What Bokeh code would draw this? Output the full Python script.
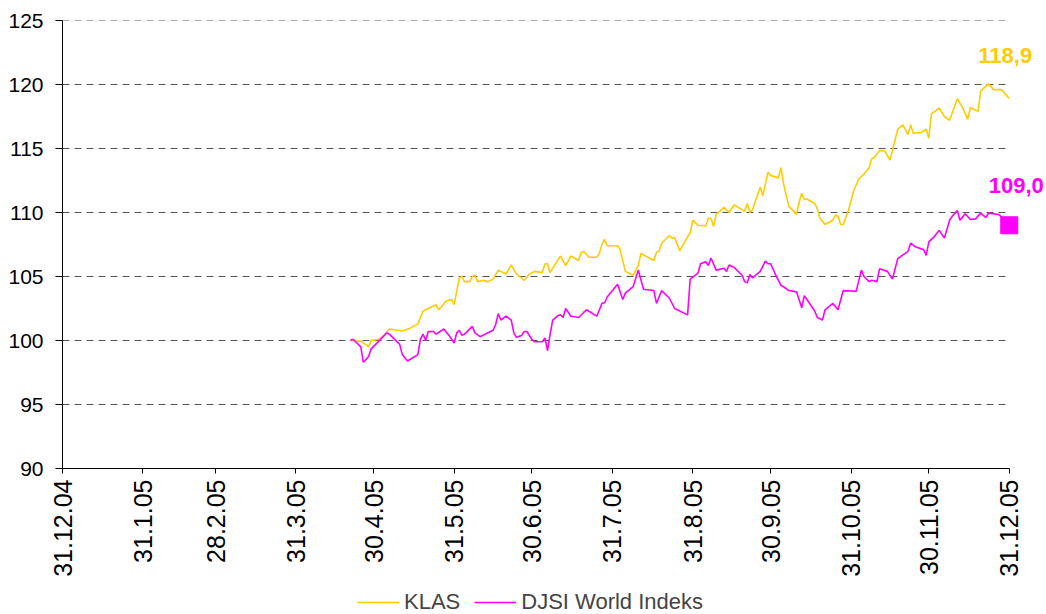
import math
from datetime import datetime, timedelta
from bokeh.plotting import figure
from bokeh.layouts import column
from bokeh.models import (FixedTicker, CustomJSTickFormatter, Legend, LegendItem,
                          Label, Range1d)
from bokeh.embed import file_html
from bokeh.resources import INLINE

# ---------------- data ----------------
klas_dates = ["2005-04-21","2005-04-25","2005-04-28","2005-04-29","2005-05-02","2005-05-04","2005-05-06","2005-05-09",
"2005-05-11","2005-05-14","2005-05-17","2005-05-19","2005-05-21","2005-05-24","2005-05-25","2005-05-28","2005-05-30",
"2005-05-31","2005-06-02","2005-06-03","2005-06-04","2005-06-06","2005-06-07","2005-06-08","2005-06-09","2005-06-11",
"2005-06-13","2005-06-15","2005-06-17","2005-06-20","2005-06-22","2005-06-24","2005-06-27","2005-06-29","2005-07-01",
"2005-07-04","2005-07-05","2005-07-06","2005-07-07","2005-07-08","2005-07-11","2005-07-13","2005-07-15","2005-07-18",
"2005-07-19","2005-07-20","2005-07-22","2005-07-25","2005-07-26","2005-07-27","2005-07-28","2005-07-29","2005-08-02",
"2005-08-03","2005-08-05","2005-08-08","2005-08-10","2005-08-11","2005-08-16","2005-08-17","2005-08-18","2005-08-19",
"2005-08-22","2005-08-23","2005-08-24","2005-08-26","2005-08-29","2005-08-30","2005-08-31","2005-09-02","2005-09-05",
"2005-09-06","2005-09-07","2005-09-08","2005-09-09","2005-09-12","2005-09-14","2005-09-16","2005-09-20","2005-09-21",
"2005-09-22","2005-09-23","2005-09-26","2005-09-27","2005-09-29","2005-09-30","2005-10-03","2005-10-04","2005-10-05",
"2005-10-07","2005-10-10","2005-10-11","2005-10-12","2005-10-13","2005-10-14","2005-10-17","2005-10-18","2005-10-19",
"2005-10-21","2005-10-24","2005-10-25","2005-10-26","2005-10-27","2005-10-28","2005-10-30","2005-11-01","2005-11-03",
"2005-11-05","2005-11-07","2005-11-08","2005-11-09","2005-11-11","2005-11-13","2005-11-15","2005-11-16","2005-11-18",
"2005-11-20","2005-11-22","2005-11-23","2005-11-24","2005-11-27","2005-11-29","2005-11-30","2005-12-01","2005-12-04",
"2005-12-06","2005-12-08","2005-12-11","2005-12-13","2005-12-15","2005-12-16","2005-12-19","2005-12-20","2005-12-23",
"2005-12-25","2005-12-28","2005-12-31"]
klas_values = [100.0, 99.95, 99.5, 100.0, 100.1, 100.4, 100.9, 100.8, 100.75, 100.96, 101.3, 102.3, 102.5, 102.8,
102.4, 103.1, 103.2, 102.8, 104.9, 105.0, 104.6, 104.6, 105.0, 105.1, 104.6, 104.7, 104.6, 104.8, 105.5, 105.2, 105.9,
105.2, 104.7, 105.2, 105.4, 105.3, 106.0, 106.0, 105.3, 105.65, 106.6, 105.86, 106.6, 106.25, 106.9, 106.95, 106.5,
106.5, 106.8, 107.55, 107.9, 107.4, 107.4, 107.1, 105.4, 105.1, 105.86, 106.8, 106.25, 106.9, 106.97, 107.6, 108.2,
108.0, 108.05, 107.0, 108.1, 108.4, 109.4, 109.0, 108.95, 109.55, 109.55, 108.9, 109.85, 110.4, 110.0, 110.6, 110.1,
110.7, 110.0, 110.2, 112.0, 111.3, 113.15, 112.9, 112.7, 113.5, 112.25, 110.5, 109.85, 110.8, 111.5, 111.0, 111.05,
110.7, 110.3, 109.55, 109.06, 109.4, 109.8, 109.7, 109.06, 109.06, 110.15, 111.7, 112.6, 113.0, 113.5, 114.2, 114.3,
114.84, 114.8, 114.1, 114.84, 116.5, 116.85, 116.1, 116.85, 116.2, 116.25, 116.5, 115.8, 117.7, 118.15, 117.5, 117.2,
118.9, 118.2, 117.27, 118.2, 117.9, 119.5, 120.05, 119.6, 119.6, 118.9]

djsi_dates = ["2005-04-21","2005-04-22","2005-04-25","2005-04-26","2005-04-28","2005-04-29","2005-05-02","2005-05-05",
"2005-05-06","2005-05-10","2005-05-11","2005-05-13","2005-05-17","2005-05-18","2005-05-19","2005-05-20","2005-05-21",
"2005-05-23","2005-05-24","2005-05-27","2005-05-29","2005-05-31","2005-06-01","2005-06-02","2005-06-03","2005-06-04",
"2005-06-07","2005-06-08","2005-06-10","2005-06-13","2005-06-15","2005-06-16","2005-06-17","2005-06-18","2005-06-20",
"2005-06-22","2005-06-23","2005-06-24","2005-06-26","2005-06-27","2005-06-28","2005-06-30","2005-07-01","2005-07-04",
"2005-07-05","2005-07-06","2005-07-07","2005-07-08","2005-07-10","2005-07-11","2005-07-12","2005-07-13","2005-07-15",
"2005-07-18","2005-07-21","2005-07-25","2005-07-27","2005-07-28","2005-07-29","2005-08-02","2005-08-04","2005-08-05",
"2005-08-08","2005-08-10","2005-08-12","2005-08-16","2005-08-17","2005-08-19","2005-08-22","2005-08-24","2005-08-29",
"2005-08-30","2005-09-02","2005-09-03","2005-09-05","2005-09-06","2005-09-07","2005-09-09","2005-09-12","2005-09-13",
"2005-09-14","2005-09-16","2005-09-19","2005-09-20","2005-09-21","2005-09-22","2005-09-23","2005-09-26","2005-09-28",
"2005-09-29","2005-09-30","2005-10-02","2005-10-04","2005-10-05","2005-10-07","2005-10-10","2005-10-12","2005-10-13",
"2005-10-14","2005-10-17","2005-10-18","2005-10-20","2005-10-21","2005-10-24","2005-10-26","2005-10-28","2005-11-02",
"2005-11-04","2005-11-05","2005-11-07","2005-11-08","2005-11-10","2005-11-11","2005-11-14","2005-11-16","2005-11-18",
"2005-11-22","2005-11-23","2005-11-25","2005-11-28","2005-11-29","2005-11-30","2005-12-02","2005-12-04","2005-12-06",
"2005-12-08","2005-12-09","2005-12-11","2005-12-12","2005-12-14","2005-12-16","2005-12-18","2005-12-20","2005-12-22",
"2005-12-23","2005-12-27","2005-12-31"]
djsi_values = [100.0, 100.1, 99.5, 98.3, 98.75, 99.35, 99.95, 100.6, 100.5, 99.7, 98.9, 98.4, 98.9, 100.1, 100.5,
100.0, 100.7, 100.7, 100.5, 100.9, 100.4, 99.8, 100.6, 100.8, 100.4, 100.5, 101.1, 100.6, 100.3, 100.6, 100.8, 101.25,
102.1, 101.6, 101.9, 101.6, 100.6, 100.25, 100.4, 100.7, 100.7, 100.08, 99.9, 99.9, 100.2, 99.2, 100.5, 101.6, 101.95,
102.0, 101.8, 102.5, 101.9, 101.8, 102.4, 101.9, 102.9, 102.95, 103.4, 104.4, 103.2, 103.7, 104.2, 105.5, 104.0, 103.9,
102.9, 103.9, 103.3, 102.5, 102.0, 104.8, 105.26, 106.0, 106.15, 105.86, 106.45, 105.5, 105.65, 105.4, 105.9, 105.7,
105.1, 104.6, 104.5, 105.15, 104.9, 105.4, 106.2, 106.0, 106.0, 105.1, 104.3, 104.2, 103.9, 103.8, 102.55, 103.5,
103.2, 102.3, 101.8, 101.6, 102.4, 102.9, 102.4, 103.9, 103.85, 105.5, 105.0, 104.6, 104.7, 104.6, 105.6, 105.4,
104.8, 106.4, 106.97, 107.6, 107.3, 107.1, 106.65, 107.7, 108.1, 108.6, 108.0, 109.4, 109.7, 110.15, 109.4, 109.9,
109.45, 109.5, 109.95, 109.6, 109.95, 109.85, 109.0]

x_tick_dates = ["2004-12-31","2005-01-31","2005-02-28","2005-03-31","2005-04-30","2005-05-31","2005-06-30",
                "2005-07-31","2005-08-31","2005-09-30","2005-10-31","2005-11-30","2005-12-31"]
x_tick_labels = ["31.12.04","31.1.05","28.2.05","31.3.05","30.4.05","31.5.05","30.6.05",
                 "31.7.05","31.8.05","30.9.05","31.10.05","30.11.05","31.12.05"]
y_ticks = [90, 95, 100, 105, 110, 115, 120, 125]
series_names = ["KLAS", "DJSI World Indeks"]

# ---------------- styling ----------------
GOLD = "#FFCC00"
MAGENTA = "#FF00FF"
FONT = "Liberation Sans"
EPOCH = datetime(1970, 1, 1)
NAN = float("nan")


def to_dt(s):
    return datetime.strptime(s, "%Y-%m-%d")


def to_ms(s):
    return (to_dt(s) - EPOCH).total_seconds() * 1000.0


tick_ms = [to_ms(d) for d in x_tick_dates]

p = figure(frame_width=982, frame_height=448, x_axis_type="datetime",
           output_backend="svg", toolbar_location=None,
           min_border_left=62, min_border_right=0, min_border_top=20, min_border_bottom=0,
           background_fill_color="white", border_fill_color="white")
p.outline_line_color = None
# a little room right of 31.12.05 for the end marker and value labels
p.x_range = Range1d(start=to_dt(x_tick_dates[0]), end=to_dt(x_tick_dates[-1]) + timedelta(days=13.6))
p.y_range = Range1d(start=y_ticks[0], end=y_ticks[-1])

# dashed horizontal grid lines spanning the dated axis only
p.segment(x0=[tick_ms[0]] * len(y_ticks), x1=[tick_ms[-1]] * len(y_ticks), y0=y_ticks, y1=y_ticks,
          line_color="#555555", line_width=1, line_dash="7 5", level="underlay")

r1 = p.line([to_dt(d) for d in klas_dates], klas_values, line_color=GOLD, line_width=1.6)
r2 = p.line([to_dt(d) for d in djsi_dates], djsi_values, line_color=MAGENTA, line_width=1.6)
p.scatter([to_dt(djsi_dates[-1])], [djsi_values[-1]], marker="square", size=17,
          fill_color=MAGENTA, line_color=MAGENTA)


def fmt(v):
    return f"{v:.1f}".replace(".", ",")


p.add_layout(Label(x=to_ms(klas_dates[-1]), y=klas_values[-1], text=fmt(klas_values[-1]),
                   x_offset=-4, y_offset=43, text_align="center", text_baseline="middle",
                   text_font=FONT, text_font_size="22px", text_font_style="bold", text_color=GOLD))
p.add_layout(Label(x=to_ms(djsi_dates[-1]), y=djsi_values[-1], text=fmt(djsi_values[-1]),
                   x_offset=7, y_offset=40, text_align="center", text_baseline="middle",
                   text_font=FONT, text_font_size="22px", text_font_style="bold", text_color=MAGENTA))

# axes
p.xaxis.bounds = (tick_ms[0], tick_ms[-1])
p.xaxis.ticker = FixedTicker(ticks=tick_ms)
p.xaxis.formatter = CustomJSTickFormatter(args=dict(vals=tick_ms, labs=x_tick_labels), code="""
    let best = -1, bd = Infinity;
    for (let i = 0; i < vals.length; i++) {
        const d = Math.abs(vals[i] - tick);
        if (d < bd) { bd = d; best = i; }
    }
    return (best >= 0 && bd < 4e7) ? labs[best] : "";
""")
p.xaxis.major_label_orientation = math.pi / 2
p.xaxis.major_tick_out = 5
p.xaxis.major_tick_in = 0
p.xaxis.minor_tick_line_color = None
p.xaxis.major_label_standoff = 6
p.xaxis.major_label_text_font = FONT
p.xaxis.major_label_text_font_size = "25px"
p.xaxis.major_label_text_color = "black"
p.xaxis.axis_line_color = "black"
p.xaxis.major_tick_line_color = "black"

p.yaxis.ticker = FixedTicker(ticks=y_ticks)
p.yaxis.major_tick_out = 7
p.yaxis.major_tick_in = 0
p.yaxis.minor_tick_line_color = None
p.yaxis.major_label_standoff = 12
p.yaxis.major_label_text_font = FONT
p.yaxis.major_label_text_font_size = "21px"
p.yaxis.major_label_text_color = "black"
p.yaxis.axis_line_color = "black"
p.yaxis.major_tick_line_color = "black"

p.xgrid.visible = False
p.ygrid.visible = False

# ---------------- legend strip below the chart ----------------
lg = figure(width=1044, height=36, output_backend="svg", toolbar_location=None,
            min_border_left=0, min_border_right=0, min_border_top=0, min_border_bottom=0,
            background_fill_color="white", border_fill_color="white",
            x_range=Range1d(0, 1), y_range=Range1d(0, 1))
lg.outline_line_color = None
lg.axis.visible = False
lg.grid.visible = False
lr1 = lg.line([NAN], [NAN], line_color=GOLD, line_width=1.6)
lr2 = lg.line([NAN], [NAN], line_color=MAGENTA, line_width=1.6)
legend = Legend(items=[LegendItem(label=series_names[0], renderers=[lr1]),
                       LegendItem(label=series_names[1], renderers=[lr2])],
                orientation="horizontal", location=(295, 0),
                border_line_color=None, background_fill_alpha=0,
                label_text_font=FONT, label_text_font_size="22px",
                glyph_width=42, glyph_height=20, label_standoff=5, spacing=14,
                padding=0, margin=0)
lg.add_layout(legend)

open("out.html", "w").write(file_html(column(p, lg, spacing=0), INLINE))
